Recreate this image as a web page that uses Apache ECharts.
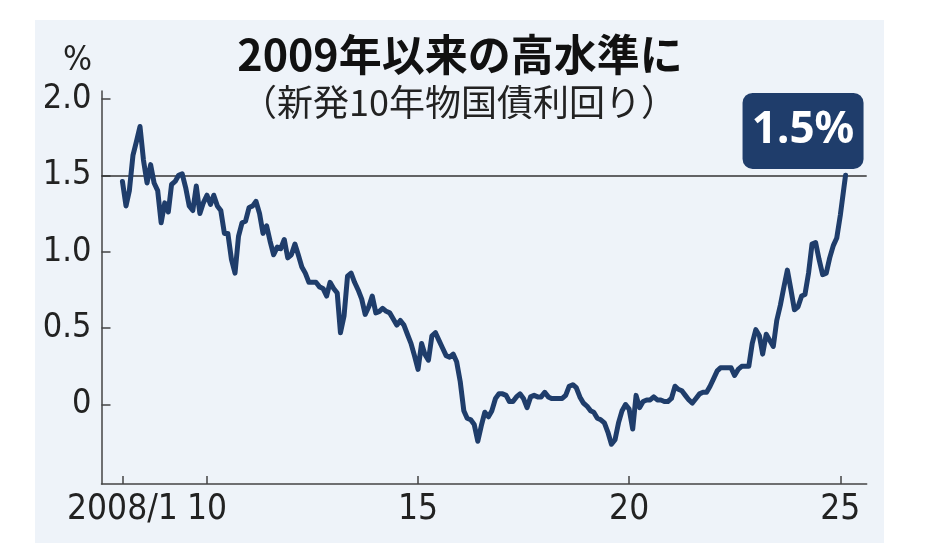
<!DOCTYPE html>
<html>
<head>
<meta charset="utf-8">
<style>
  html, body { margin: 0; padding: 0; background: #ffffff; }
  #chart { width: 932px; height: 556px; }
</style>
<script src="https://cdn.jsdelivr.net/npm/echarts@6/dist/echarts.min.js"></script>
</head>
<body>
<div id="chart"></div>
<script>
// Monthly 10-year JGB yields (%), value at start of each month
const y2008 = [1.46, 1.30, 1.40, 1.63, 1.72, 1.82, 1.60, 1.45, 1.57, 1.45, 1.40, 1.19];
const y2009 = [1.32, 1.26, 1.44, 1.46, 1.50, 1.51, 1.42, 1.30, 1.27, 1.43, 1.25, 1.32];
const y2010 = [1.37, 1.31, 1.37, 1.30, 1.27, 1.12, 1.12, 0.95, 0.86, 1.10, 1.19, 1.20];
const y2011 = [1.29, 1.30, 1.33, 1.25, 1.12, 1.17, 1.07, 0.98, 1.03, 1.02, 1.08, 0.96];
const y2012 = [0.98, 1.05, 0.98, 0.90, 0.86, 0.80, 0.80, 0.80, 0.77, 0.76, 0.71, 0.80];
const y2013 = [0.76, 0.73, 0.47, 0.58, 0.84, 0.86, 0.80, 0.75, 0.69, 0.59, 0.64, 0.71];
const y2014 = [0.60, 0.61, 0.63, 0.61, 0.60, 0.56, 0.52, 0.55, 0.52, 0.46, 0.40, 0.32];
const y2015 = [0.23, 0.40, 0.33, 0.29, 0.45, 0.47, 0.42, 0.37, 0.32, 0.31, 0.33, 0.28];
const y2016 = [0.15, -0.04, -0.09, -0.10, -0.13, -0.24, -0.14, -0.05, -0.08, -0.04, 0.04, 0.07];
const y2017 = [0.07, 0.06, 0.02, 0.02, 0.05, 0.07, 0.04, -0.02, 0.05, 0.06, 0.05, 0.05];
const y2018 = [0.08, 0.05, 0.04, 0.04, 0.04, 0.04, 0.06, 0.12, 0.13, 0.11, 0.05, 0.01];
const y2019 = [-0.01, -0.04, -0.05, -0.09, -0.10, -0.12, -0.18, -0.26, -0.23, -0.12, -0.04, 0.00];
const y2020 = [-0.03, -0.16, 0.06, -0.02, 0.02, 0.03, 0.03, 0.05, 0.03, 0.03, 0.02, 0.02];
const y2021 = [0.04, 0.12, 0.10, 0.09, 0.06, 0.03, 0.01, 0.04, 0.07, 0.08, 0.08, 0.12];
const y2022 = [0.17, 0.22, 0.24, 0.24, 0.24, 0.24, 0.19, 0.23, 0.25, 0.25, 0.25, 0.40];
const y2023 = [0.49, 0.45, 0.33, 0.46, 0.42, 0.38, 0.55, 0.65, 0.77, 0.88, 0.75, 0.62];
const y2024 = [0.64, 0.71, 0.72, 0.86, 1.05, 1.06, 0.95, 0.85, 0.86, 0.96, 1.04, 1.09];
const y2025 = [1.24, 1.42];
const lastPoint = [2025, 1, 15, 1.5]; // year, month index, day, value

const yearlyArrays = [y2008, y2009, y2010, y2011, y2012, y2013, y2014, y2015, y2016,
  y2017, y2018, y2019, y2020, y2021, y2022, y2023, y2024, y2025];
const firstYear = 2008;

const xTickYears = [2008, 2010, 2015, 2020, 2025];
const yTickValues = [0, 0.5, 1.0, 1.5, 2.0];
const refLevel = 1.5;

const titleText = '2009年以来の高水準に';
const subtitleText = '（新発10年物国債利回り）';
const unitText = '%';

const seriesData = [];
yearlyArrays.forEach((arr, i) => {
  arr.forEach((v, m) => {
    seriesData.push([Date.UTC(firstYear + i, m, 1), v]);
  });
});
const lastX = Date.UTC(lastPoint[0], lastPoint[1], lastPoint[2]);
const lastValue = lastPoint[3];
seriesData.push([lastX, lastValue]);

const xTicks = xTickYears.map(y => Date.UTC(y, 0, 1));

const navy = '#1f3d6b';
const axisColor = '#444';
const labelFont = "'Liberation Sans Narrow', 'DejaVu Sans Condensed', 'Liberation Sans', sans-serif";

const chart = echarts.init(document.getElementById('chart'), null, { renderer: 'canvas' });
chart.setOption({
  animation: false,
  backgroundColor: '#ffffff',
  graphic: [
    { type: 'rect', z: -10, silent: true, shape: { x: 35, y: 20, width: 849, height: 523 }, style: { fill: '#eef3f9' } },
    { type: 'text', z: 10, style: { text: titleText, x: 460, y: 33, textAlign: 'center', textVerticalAlign: 'top',
        fontSize: 43, fontWeight: 'bold', fontFamily: "'Noto Sans CJK JP', sans-serif", fill: '#111' } },
    { type: 'text', z: 10, style: { text: subtitleText, x: 459, y: 84, textAlign: 'center', textVerticalAlign: 'top',
        fontSize: 36, fontFamily: "'Noto Sans CJK JP', sans-serif", fill: '#222' } },
    { type: 'text', z: 10, style: { text: unitText, x: 92, y: 44, textAlign: 'right', textVerticalAlign: 'top',
        fontSize: 34, fontFamily: labelFont, fill: '#222' } }
  ],
  grid: { left: 101.5, right: 65.3, top: 91, bottom: 72, outerBoundsMode: 'none', containLabel: false },
  xAxis: {
    type: 'value',
    min: Date.UTC(2007, 6, 4),
    max: Date.UTC(2025, 7, 17),
    axisLine: { show: true, onZero: false, lineStyle: { color: axisColor, width: 1.5 } },
    axisTick: { show: true, inside: true, length: 8, customValues: xTicks, lineStyle: { color: axisColor, width: 1.5 } },
    axisLabel: {
      show: true, customValues: xTicks, margin: 8,
      fontSize: 35, fontFamily: labelFont, color: '#222',
      formatter: function (val) {
        const y = new Date(val).getUTCFullYear();
        return y === firstYear ? y + '/1' : String(y % 100);
      }
    },
    splitLine: { show: false }
  },
  yAxis: {
    type: 'value',
    min: -0.52,
    max: 2.052,
    axisLine: { show: true, onZero: false, lineStyle: { color: axisColor, width: 1.5 } },
    axisTick: { show: true, inside: true, length: 9, customValues: yTickValues, lineStyle: { color: axisColor, width: 1.5 } },
    axisLabel: {
      show: true, customValues: yTickValues, margin: 10,
      fontSize: 34, fontFamily: labelFont, color: '#222',
      formatter: v => (v === 0 ? '0' : v.toFixed(1))
    },
    splitLine: { show: false }
  },
  series: [{
    type: 'line',
    data: seriesData,
    showSymbol: false,
    symbol: 'none',
    lineStyle: { color: navy, width: 5, join: 'round', cap: 'round' },
    z: 5,
    markLine: {
      silent: true,
      symbol: ['none', 'none'],
      label: { show: false },
      lineStyle: { color: '#333', width: 1.5, type: 'solid' },
      data: [{ yAxis: refLevel }],
      z: 3
    },
    markPoint: {
      silent: true,
      symbol: 'circle',
      symbolSize: 1,
      itemStyle: { color: 'rgba(0,0,0,0)' },
      data: [{ coord: [lastX, lastValue] }],
      label: {
        show: true,
        position: 'inside',
        offset: [-42.5, -44.4],
        formatter: lastValue.toFixed(1) + '%',
        color: '#ffffff',
        fontSize: 44,
        fontWeight: 'bold',
        fontFamily: "'Noto Sans', sans-serif",
        backgroundColor: navy,
        borderRadius: 10,
        width: 121,
        height: 76,
        lineHeight: 76,
        align: 'center',
        verticalAlign: 'middle',
        padding: 0
      }
    }
  }]
});
</script>
</body>
</html>
